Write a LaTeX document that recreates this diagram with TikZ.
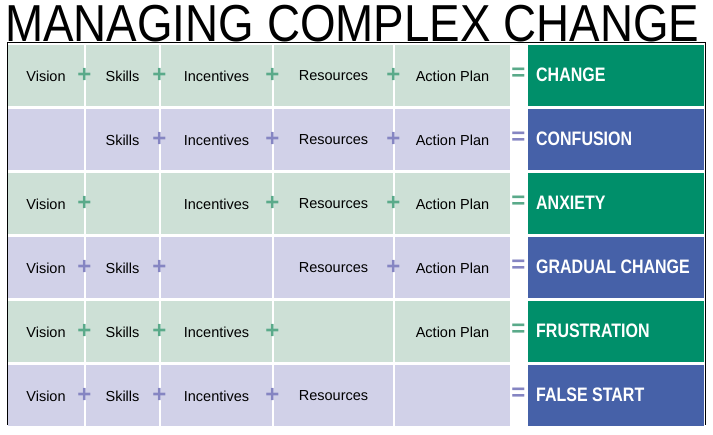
\documentclass[tikz,border=0pt]{standalone}
\usepackage{fontspec}
\setmainfont{Liberation Sans}
\newfontfamily\narrowfont[FakeStretch=0.82]{Liberation Sans}
\definecolor{cellgreen}{HTML}{CDE0D6}
\definecolor{cellblue}{HTML}{D1D1E8}
\definecolor{plusgreen}{HTML}{5AAA8A}
\definecolor{plusblue}{HTML}{8585C2}
\definecolor{resgreen}{HTML}{008F6A}
\definecolor{resblue}{HTML}{4661A8}
\tikzset{
  cell/.style={minimum height=60pt, inner sep=0pt, font=\fontsize{14.5}{14.5}\selectfont},
  result/.style={cell, anchor=west, text=white, font=\narrowfont\bfseries\fontsize{19.5}{19.5}\selectfont},
  sign/.style={font=\bfseries\fontsize{24}{24}\selectfont, inner sep=0pt}
}
\begin{document}
\begin{tikzpicture}[x=1pt,y=-1pt]
    \useasboundingbox (0,0) rectangle (713,435);
    % rows: fill, sign colour, result fill, words, pluses after columns, result
    \foreach \r/\fc/\pc/\rc/\words/\plus/\res in {
        1/cellgreen/plusgreen/resgreen/{Vision,Skills,Incentives,Resources,Action Plan}/{1,2,3,4}/CHANGE,
        2/cellblue/plusblue/resblue/{,Skills,Incentives,Resources,Action Plan}/{2,3,4}/CONFUSION,
        3/cellgreen/plusgreen/resgreen/{Vision,,Incentives,Resources,Action Plan}/{1,3,4}/ANXIETY,
        4/cellblue/plusblue/resblue/{Vision,Skills,,Resources,Action Plan}/{1,2,4}/GRADUAL CHANGE,
        5/cellgreen/plusgreen/resgreen/{Vision,Skills,Incentives,,Action Plan}/{1,2,3}/FRUSTRATION,
        6/cellblue/plusblue/resblue/{Vision,Skills,Incentives,Resources,}/{1,2,3}/FALSE START} {
      \pgfmathsetmacro{\yt}{45+64*(\r-1)}
      \foreach \c/\xa/\xb in {1/8/84, 2/86/159, 3/161/272, 4/274/393, 5/395/510} {
        \fill[\fc] (\xa,\yt) rectangle (\xb,\yt+61);
      }
      \fill[\rc] (528,\yt) rectangle (704,\yt+61);
      \foreach \w [count=\c] in \words {
        \pgfmathsetmacro{\xm}{{46,122.5,216.5,333.5,452.5}[\c-1]}
        \node[cell] (w\r\c) at (\xm,\yt+31) {\w};
      }
      \foreach \p in \plus {
        \pgfmathsetmacro{\xp}{{84.5,159.5,272.5,393.5}[\p-1]}
        \node[sign, text=\pc] (p\r\p) at (\xp,\yt+30) {+};
      }
      \node[sign, text=\pc] (e\r) at (518.5,\yt+29) {=};
      \node[result] (res\r) at (536,\yt+30) {\res};
    }
    % frame
    \draw[line width=1pt] (7,425) -- (7,43) -- (705,43) -- (705,425);
    \node[anchor=base west, inner sep=0pt, xscale=0.88, font=\fontsize{52}{52}\selectfont] (title) at (5,42) {MANAGING COMPLEX CHANGE};
\end{tikzpicture}
\end{document}
